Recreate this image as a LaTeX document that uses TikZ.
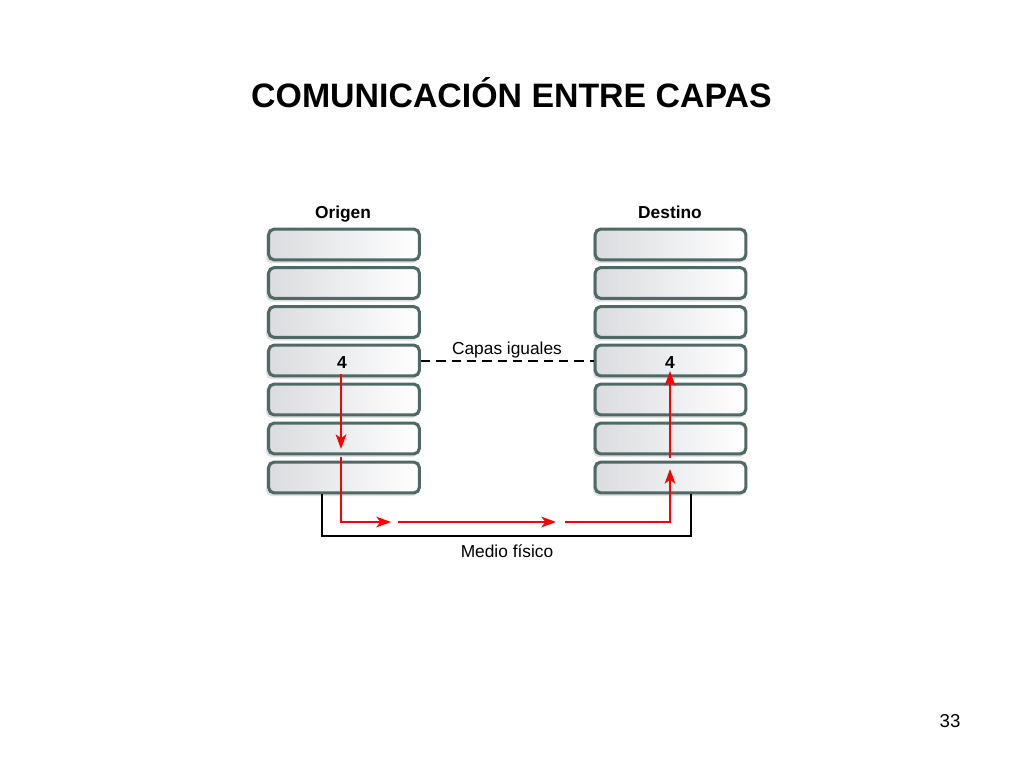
\documentclass[tikz,border=0pt]{standalone}
\usepackage{fontspec}
\setmainfont{Liberation Sans}
\usetikzlibrary{arrows.meta,calc}
\definecolor{layerborder}{HTML}{4F6966}
\definecolor{layerfill}{HTML}{DADCDF}
\definecolor{arrowred}{HTML}{FF0000}
\begin{document}
\begin{tikzpicture}[x=0.75pt,y=-0.75pt,
  layer/.style={draw=layerborder,line width=2.3pt,rounded corners=4pt,
    left color=layerfill,right color=white,
    minimum width=113pt,minimum height=23pt,inner sep=0pt,
    font=\fontsize{12}{14}\selectfont\bfseries},
  shadowbox/.style={fill=black!12,rounded corners=4pt,
    minimum width=114pt,minimum height=24pt,inner sep=0pt},
  redline/.style={draw=arrowred,line width=1.6pt},
  redarrow/.style={redline,-{Stealth[length=11pt,width=8pt,inset=3pt]}},
  blackline/.style={draw=black,line width=1.6pt},
  label/.style={font=\fontsize{13}{15}\selectfont,anchor=base},
  header/.style={font=\fontsize{13}{15}\selectfont\bfseries,anchor=base}]
\useasboundingbox (0,0) rectangle (1024,768);

\node[font=\fontsize{25.4}{30}\selectfont\bfseries,anchor=base] (title) at (511.5,107) {COMUNICACIÓN ENTRE CAPAS};
\node[font=\fontsize{14}{16}\selectfont,anchor=base] (page) at (950,727) {33};

\node[header] (origen) at (343,218) {Origen};
\node[header] (destino) at (670,218) {Destino};

% shadows
\foreach \i/\y in {1/244.5,2/283,3/322,4/360.5,5/399.5,6/438.5,7/477.5}{
  \node[shadowbox] (LS\i) at (342,\y+2.5) {};
  \node[shadowbox] (RS\i) at (669,\y+2.5) {};
}
% layers
\foreach \i/\y in {1/244.5,2/283,3/322,5/399.5,6/438.5,7/477.5}{
  \node[layer] (L\i) at (344,\y) {};
  \node[layer] (R\i) at (670.5,\y) {};
}
\node[layer] (L4) at (344,360.5) {};
\node[layer] (R4) at (670.5,360.5) {};
\node[font=\fontsize{13}{14}\selectfont\bfseries,anchor=base] (n4l) at (342,368) {4};
\node[font=\fontsize{13}{14}\selectfont\bfseries,anchor=base] (n4r) at (670,368) {4};

% peer dashed line
\draw[line width=1.5pt,dash pattern=on 7pt off 4.5pt] (L4.east) -- (R4.west);
\node[label] (capas) at (507,354) {Capas iguales};

% physical medium
\coordinate (bl0) at (322,494);
\coordinate (bl1) at (322,536);
\coordinate (bl2) at (691,536);
\coordinate (bl3) at (691,494);
\draw[blackline] (bl0) -- (bl1) -- (bl2) -- (bl3);
\node[label] (medio) at (507,557) {Medio físico};

% red path
\coordinate (r0) at (341,374);
\coordinate (r1) at (341,449);
\coordinate (r2) at (341,457);
\coordinate (r3) at (341,522);
\coordinate (r4) at (391,522);
\coordinate (r5) at (398,522);
\coordinate (r6) at (556,522);
\coordinate (r7) at (565,522);
\coordinate (r8) at (670,522);
\coordinate (r9) at (670,469);
\coordinate (r10) at (670,458);
\coordinate (r11) at (670,371);
\draw[redarrow] (r0) -- (r1);
\draw[redarrow] (r2) -- (r3) -- (r4);
\draw[redarrow] (r5) -- (r6);
\draw[redarrow] (r7) -- (r8) -- (r9);
\draw[redarrow] (r10) -- (r11);
\end{tikzpicture}
\end{document}
